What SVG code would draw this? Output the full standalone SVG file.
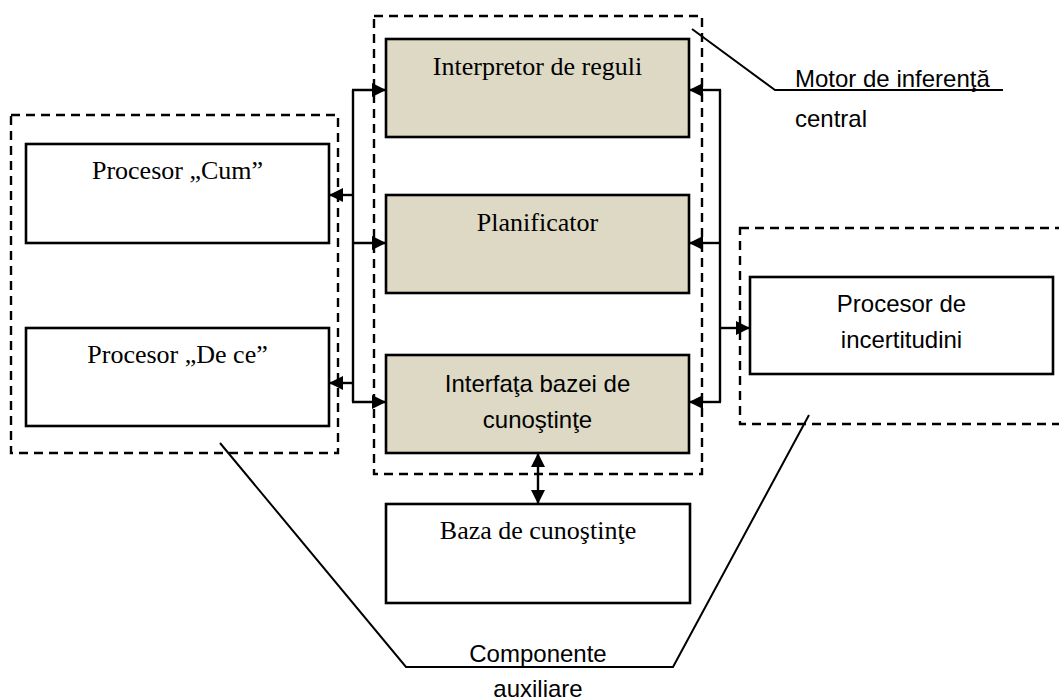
<svg xmlns="http://www.w3.org/2000/svg" width="1059" height="700" viewBox="0 0 1059 700">
<style>
.box{stroke:#000;stroke-width:2.6;}
.shade{fill:#ddd9c4;}
.plain{fill:#fff;}
.dash{fill:none;stroke:#000;stroke-width:2.4;stroke-dasharray:9 6;}
.conn{fill:none;stroke:#000;stroke-width:2.4;}
.lead{fill:none;stroke:#000;stroke-width:2;}
.serif{font-family:"Liberation Serif","Times New Roman",serif;font-size:26px;fill:#000;text-anchor:middle;}
.sans{font-family:"Liberation Sans",Arial,sans-serif;font-size:24px;fill:#000;}
.mid{text-anchor:middle;}
</style>
<defs>
<marker id="arr" viewBox="0 0 14 14" refX="14" refY="7" markerWidth="14" markerHeight="14" markerUnits="userSpaceOnUse" orient="auto-start-reverse">
<path d="M0,0 L14,7 L0,14 Z" fill="#000"/>
</marker>
</defs>
<rect width="1059" height="700" fill="#fff"/>

<g id="group-auxiliary-left">
<rect class="dash" x="11" y="115" width="327" height="338"/>
</g>
<g id="group-central">
<rect class="dash" x="374" y="16" width="328" height="458"/>
</g>
<g id="group-auxiliary-right">
<rect class="dash" x="740" y="228" width="340" height="196"/>
</g>

<g id="node-interpretor">
<rect class="box shade" x="386" y="39" width="303" height="98"/>
<text class="serif" x="537.5" y="75">Interpretor de reguli</text>
</g>
<g id="node-planificator">
<rect class="box shade" x="386" y="195" width="303" height="98"/>
<text class="serif" x="537.5" y="231">Planificator</text>
</g>
<g id="node-interfata">
<rect class="box shade" x="386" y="355" width="303" height="98"/>
<text class="sans mid" x="537.5" y="392">Interfaţa bazei de</text>
<text class="sans mid" x="537.5" y="428">cunoştinţe</text>
</g>
<g id="node-cum">
<rect class="box plain" x="26" y="144" width="303" height="99"/>
<text class="serif" x="177.5" y="179">Procesor „Cum”</text>
</g>
<g id="node-dece">
<rect class="box plain" x="26" y="328" width="303" height="98"/>
<text class="serif" x="177.5" y="363">Procesor „De ce”</text>
</g>
<g id="node-incertitudini">
<rect class="box plain" x="750" y="277" width="303" height="97"/>
<text class="sans mid" x="901.5" y="312">Procesor de</text>
<text class="sans mid" x="901.5" y="348">incertitudini</text>
</g>
<g id="node-baza">
<rect class="box plain" x="386" y="504" width="304" height="99"/>
<text class="serif" x="538" y="539">Baza de cunoştinţe</text>
</g>

<g id="connectors">
<line class="conn" x1="353" y1="90" x2="353" y2="402"/>
<line class="conn" x1="352" y1="90" x2="386" y2="90" marker-end="url(#arr)"/>
<line class="conn" x1="353" y1="195" x2="329" y2="195" marker-end="url(#arr)"/>
<line class="conn" x1="353" y1="243" x2="386" y2="243" marker-end="url(#arr)"/>
<line class="conn" x1="353" y1="383" x2="329" y2="383" marker-end="url(#arr)"/>
<line class="conn" x1="352" y1="402" x2="386" y2="402" marker-end="url(#arr)"/>
<line class="conn" x1="720" y1="90" x2="720" y2="402"/>
<line class="conn" x1="721" y1="90" x2="689" y2="90" marker-end="url(#arr)"/>
<line class="conn" x1="720" y1="243" x2="689" y2="243" marker-end="url(#arr)"/>
<line class="conn" x1="721" y1="402" x2="689" y2="402" marker-end="url(#arr)"/>
<line class="conn" x1="720" y1="328" x2="750" y2="328" marker-end="url(#arr)"/>
<line class="conn" x1="538" y1="453" x2="538" y2="504" marker-start="url(#arr)" marker-end="url(#arr)"/>
</g>

<g id="callouts">
<polyline class="lead" points="692,29 775,90 1003,90"/>
<text class="sans" x="795" y="87">Motor de inferenţă</text>
<text class="sans" x="795" y="127">central</text>
<polyline class="lead" points="220,443 406,667 673,667 809,415"/>
<text class="sans mid" x="538" y="662">Componente</text>
<text class="sans mid" x="538" y="697">auxiliare</text>
</g>
</svg>
